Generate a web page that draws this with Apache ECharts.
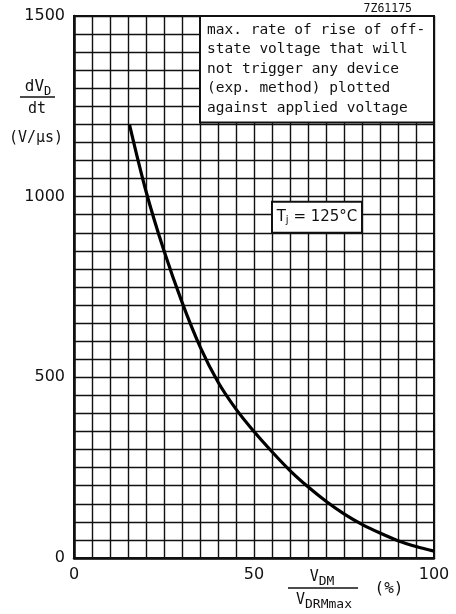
<!DOCTYPE html>
<html>
<head>
<meta charset="utf-8">
<script src="https://cdn.jsdelivr.net/npm/echarts@6/dist/echarts.min.js"></script>
<style>
  html, body { margin: 0; padding: 0; background: #fff; }
  #chart { width: 456px; height: 614px; }
</style>
</head>
<body>
<div id="chart"></div>
<script>
// Off-state voltage as a percentage of V_DRMmax
const voltagePct = [15.4, 20, 25, 30, 35, 40, 45, 50, 55, 60, 65, 70, 75, 80, 85, 90, 95, 100];
// Max. dV_D/dt (V/µs) that will not trigger any device
const dvdtMax = [1200, 1015, 850, 708, 585, 487, 412, 350, 294, 242, 197, 157, 122, 93, 69, 48, 32, 19];

const xTickLabels = [0, 50, 100];
const yTickLabels = [0, 500, 1000, 1500];

const noteLines = [
  'max. rate of rise of off-',
  'state voltage that will',
  'not trigger any device',
  '(exp. method) plotted',
  'against applied voltage'
];
const figureCode = '7Z61175';

const FONT = '"DejaVu Sans", sans-serif';
const MONO = '"DejaVu Sans Mono", monospace';
const INK = '#111';

const chart = echarts.init(document.getElementById('chart'), null, { renderer: 'canvas' });

const curve = voltagePct.map((v, i) => [v, dvdtMax[i]]);

chart.setOption({
  animation: false,
  backgroundColor: '#fff',
  grid: { left: 74, right: 22, top: 16, bottom: 56, show: true, borderColor: INK, borderWidth: 2, backgroundColor: 'transparent' },
  xAxis: {
    type: 'value', min: 0, max: 100, interval: 5,
    axisLine: { show: true, lineStyle: { color: INK, width: 2.5 } },
    axisTick: { show: false },
    splitLine: { show: true, lineStyle: { color: INK, width: 1.4 } },
    axisLabel: {
      color: INK, fontFamily: FONT, fontSize: 16, margin: 9,
      formatter: v => (xTickLabels.includes(v) ? String(v) : '')
    }
  },
  yAxis: {
    type: 'value', min: 0, max: 1500, interval: 50,
    axisLine: { show: true, lineStyle: { color: INK, width: 2.5 } },
    axisTick: { show: false },
    splitLine: { show: true, lineStyle: { color: INK, width: 1.4 } },
    axisLabel: {
      color: INK, fontFamily: FONT, fontSize: 16, margin: 9,
      formatter: v => (yTickLabels.includes(v) ? String(v) : '')
    }
  },
  series: [{
    type: 'line',
    data: curve,
    smooth: 0.35,
    showSymbol: false,
    lineStyle: { color: '#000', width: 3.2 },
    z: 5
  }]
});

// Annotation boxes anchored to the axes
const p0 = chart.convertToPixel({ gridIndex: 0 }, [35, 1500]);
const p1 = chart.convertToPixel({ gridIndex: 0 }, [100, 1200]);
const t0 = chart.convertToPixel({ gridIndex: 0 }, [55, 900]);
const t1 = chart.convertToPixel({ gridIndex: 0 }, [80, 900]);

const txt = (x, y, text, extra) => ({
  type: 'text', x, y, z: 20,
  style: Object.assign({ text, fill: INK, font: '15px ' + MONO, textAlign: 'left', textVerticalAlign: 'middle' }, extra || {})
});

const subText = (x, y, main, sub, mainSize, subSize) => ({
  type: 'text', z: 20, x, y,
  style: {
    text: '{a|' + main + '}{s|' + sub + '}', textAlign: 'center', textVerticalAlign: 'middle',
    rich: {
      a: { fontFamily: MONO, fontSize: mainSize, fill: INK },
      s: { fontFamily: MONO, fontSize: subSize, fill: INK, padding: [9, 0, 0, 0] }
    }
  }
});

const graphics = [];

// description box
graphics.push({
  type: 'rect', z: 15,
  shape: { x: p0[0], y: p0[1], width: p1[0] - p0[0], height: p1[1] - p0[1] - 2 },
  style: { fill: '#fff', stroke: INK, lineWidth: 2 }
});
noteLines.forEach((line, i) => {
  graphics.push(txt(p0[0] + 7, p0[1] + 14 + i * 19.5, line, { font: '14.5px ' + MONO }));
});
graphics.push(txt(p1[0] - 22, 9, figureCode, { font: '11.5px ' + MONO, textAlign: 'right' }));

// junction temperature box
graphics.push({
  type: 'rect', z: 15,
  shape: { x: t0[0], y: t0[1] - 31, width: t1[0] - t0[0], height: 31 },
  style: { fill: '#fff', stroke: INK, lineWidth: 2 }
});
graphics.push({
  type: 'text', z: 20, x: (t0[0] + t1[0]) / 2, y: t0[1] - 16,
  style: {
    text: '{a|T}{s|j}{a| = 125°C}',
    textAlign: 'center', textVerticalAlign: 'middle',
    rich: {
      a: { fontFamily: FONT, fontSize: 15, fill: INK },
      s: { fontFamily: FONT, fontSize: 10, fill: INK, padding: [8, 0, 0, 0] }
    }
  }
});

// y-axis title: dV_D / dt (V/µs)
graphics.push(subText(38, 87, 'dV', 'D', 16, 12));
graphics.push({ type: 'line', z: 20, shape: { x1: 20, y1: 97, x2: 55, y2: 97 }, style: { stroke: INK, lineWidth: 1.6 } });
graphics.push(txt(37, 109, 'dt', { textAlign: 'center' }));
graphics.push(txt(36, 138, '(V/μs)', { textAlign: 'center' }));

// x-axis title: V_DM / V_DRMmax (%)
graphics.push(subText(322, 577, 'V', 'DM', 15, 13));
graphics.push({ type: 'line', z: 20, shape: { x1: 288, y1: 588, x2: 358, y2: 588 }, style: { stroke: INK, lineWidth: 1.6 } });
graphics.push(subText(324, 600, 'V', 'DRMmax', 15, 13));
graphics.push(txt(389, 589, '(%)', { textAlign: 'center', font: '16px ' + MONO }));

chart.setOption({ graphic: graphics });
</script>
</body>
</html>
